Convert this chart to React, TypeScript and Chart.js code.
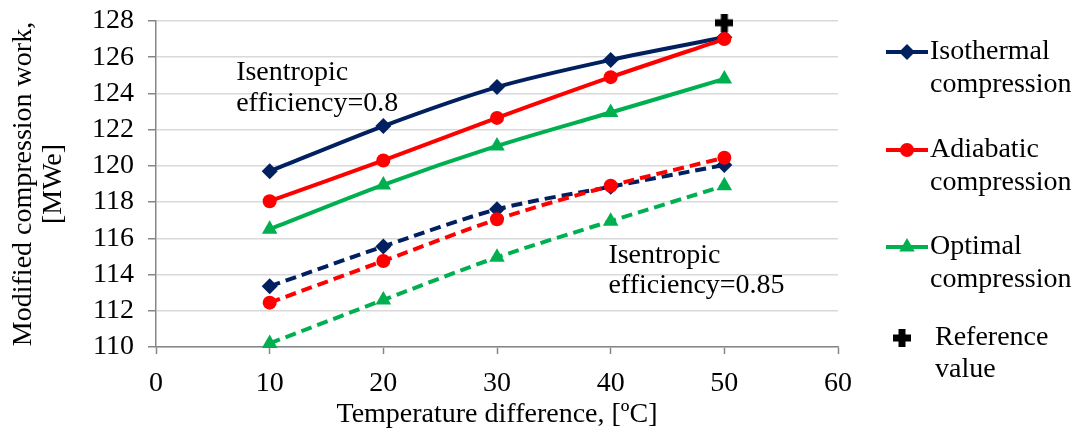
import React, { useEffect, useRef } from 'react';
import { Chart, registerables } from 'chart.js';

Chart.register(...registerables);

// ---- data ----
const temperatureDiff = [10, 20, 30, 40, 50];
const isothermal08 = [119.7, 122.2, 124.35, 125.85, 127.1];
const adiabatic08 = [118.05, 120.3, 122.65, 124.9, 127.0];
const optimal08 = [116.5, 118.95, 121.1, 122.95, 124.8];
const isothermal085 = [113.35, 115.55, 117.6, 118.85, 120.05];
const adiabatic085 = [112.45, 114.75, 117.05, 118.9, 120.45];
const optimal085 = [110.2, 112.6, 114.95, 116.95, 118.9];
const referenceX = [50];
const referenceY = [127.9];

const xMin = 0, xMax = 60, xStep = 10;
const yMin = 110, yMax = 128, yStep = 2;

const xTitle = 'Temperature difference, [\u00BAC]';
const yTitle = ['Modified compression work,', '[MWe]'];

const legendLabels = [
  ['Isothermal', 'compression'],
  ['Adiabatic', 'compression'],
  ['Optimal', 'compression'],
  ['Reference', 'value'],
];
const annotationLow = ['Isentropic', 'efficiency=0.8'];
const annotationHigh = ['Isentropic', 'efficiency=0.85'];

const NAVY = '#002060';
const RED = '#ff0000';
const GREEN = '#00b050';
const FONT = '"Liberation Serif", "Times New Roman", serif';
const FS = 28;

function makePlus(size: number, arm: number) {
  const c = document.createElement('canvas');
  c.width = size;
  c.height = size;
  const g = c.getContext('2d')!;
  g.fillStyle = '#000';
  const o = (size - arm) / 2;
  g.fillRect(o, 0, arm, size);
  g.fillRect(0, o, size, arm);
  return c;
}

function toXY(xs: number[], ys: number[]) {
  return xs.map((x, i) => ({ x, y: ys[i] }));
}

function drawMarker(ctx: CanvasRenderingContext2D, kind: string, cx: number, cy: number, color: string, plus?: HTMLCanvasElement) {
  ctx.fillStyle = color;
  ctx.beginPath();
  if (kind === 'diamond') {
    const r = 8;
    ctx.moveTo(cx, cy - r);
    ctx.lineTo(cx + r, cy);
    ctx.lineTo(cx, cy + r);
    ctx.lineTo(cx - r, cy);
    ctx.closePath();
    ctx.fill();
  } else if (kind === 'circle') {
    ctx.arc(cx, cy, 7, 0, Math.PI * 2);
    ctx.fill();
  } else if (kind === 'triangle') {
    const r = 9;
    ctx.moveTo(cx, cy - r);
    ctx.lineTo(cx + r * 0.866, cy + r * 0.5);
    ctx.lineTo(cx - r * 0.866, cy + r * 0.5);
    ctx.closePath();
    ctx.fill();
  } else if (kind === 'plus' && plus) {
    ctx.drawImage(plus, cx - plus.width / 2, cy - plus.height / 2);
  }
}

export default function App() {
  const ref = useRef<HTMLCanvasElement | null>(null);

  useEffect(() => {
    document.body.style.margin = '0';
    const canvas = ref.current!;
    const plusImg = makePlus(18, 7);

    const overlay = {
      id: 'overlay',
      afterDraw(chart: any) {
        const ctx: CanvasRenderingContext2D = chart.ctx;
        const xs = chart.scales.x;
        const ys = chart.scales.y;
        ctx.save();
        ctx.font = `${FS}px ${FONT}`;
        ctx.fillStyle = '#000';
        ctx.textAlign = 'left';
        ctx.textBaseline = 'middle';
        // annotations (anchored in data coordinates)
        const a1x = xs.getPixelForValue(7.05);
        const a1y = ys.getPixelForValue(125.15);
        annotationLow.forEach((t, i) => ctx.fillText(t, a1x, a1y + i * 31));
        const a2x = xs.getPixelForValue(39.8);
        const a2y = ys.getPixelForValue(115.05);
        annotationHigh.forEach((t, i) => ctx.fillText(t, a2x, a2y + i * 30));

        // legend
        const lx = chart.chartArea.right + 48;
        const kinds = ['diamond', 'circle', 'triangle', 'plus'];
        const colors = [NAVY, RED, GREEN, '#000'];
        const rowY = [52, 150, 247, 338];
        kinds.forEach((k, i) => {
          const cy = rowY[i];
          if (k !== 'plus') {
            ctx.strokeStyle = colors[i];
            ctx.lineWidth = 4;
            ctx.beginPath();
            ctx.moveTo(lx, cy);
            ctx.lineTo(lx + 42, cy);
            ctx.stroke();
            drawMarker(ctx, k, lx + 21, cy, colors[i]);
            ctx.fillStyle = '#000';
            legendLabels[i].forEach((t, j) => ctx.fillText(t, lx + 44, cy + j * 33));
          } else {
            drawMarker(ctx, k, lx + 16, cy, colors[i], plusImg);
            ctx.fillStyle = '#000';
            legendLabels[i].forEach((t, j) => ctx.fillText(t, lx + 49, cy + j * 32));
          }
        });
        ctx.restore();
      },
    };

    const common = { borderWidth: 4, tension: 0.3, showLine: true, fill: false, clip: false as any };

    const chart = new Chart(canvas, {
      type: 'scatter',
      data: {
        datasets: [
          {
            label: 'Reference value', data: toXY(referenceX, referenceY), showLine: false, clip: false as any,
            pointStyle: plusImg as any, pointRadius: 9, backgroundColor: '#000', borderColor: '#000',
          },
          { ...common, label: 'Adiabatic 0.8', data: toXY(temperatureDiff, adiabatic08), borderColor: RED, backgroundColor: RED, pointStyle: 'circle', pointRadius: 7, pointBorderWidth: 0 },
          { ...common, label: 'Isothermal 0.8', data: toXY(temperatureDiff, isothermal08), borderColor: NAVY, backgroundColor: NAVY, pointStyle: 'rectRot', pointRadius: 8, pointBorderWidth: 0 },
          { ...common, label: 'Optimal 0.8', data: toXY(temperatureDiff, optimal08), borderColor: GREEN, backgroundColor: GREEN, pointStyle: 'triangle', pointRadius: 9, pointBorderWidth: 0 },
          { ...common, label: 'Adiabatic 0.85', data: toXY(temperatureDiff, adiabatic085), borderColor: RED, backgroundColor: RED, borderDash: [11, 6], pointStyle: 'circle', pointRadius: 7, pointBorderWidth: 0 },
          { ...common, label: 'Isothermal 0.85', data: toXY(temperatureDiff, isothermal085), borderColor: NAVY, backgroundColor: NAVY, borderDash: [11, 6], pointStyle: 'rectRot', pointRadius: 8, pointBorderWidth: 0 },
          { ...common, label: 'Optimal 0.85', data: toXY(temperatureDiff, optimal085), borderColor: GREEN, backgroundColor: GREEN, borderDash: [11, 6], pointStyle: 'triangle', pointRadius: 9, pointBorderWidth: 0 },
        ],
      },
      options: {
        animation: false,
        responsive: false,
        devicePixelRatio: 1,
        layout: { padding: { left: 0, top: 21, right: 241, bottom: 0 } },
        plugins: { legend: { display: false }, tooltip: { enabled: false } },
        scales: {
          x: {
            type: 'linear', min: xMin, max: xMax,
            afterFit(scale: any) { scale.height = 93; scale.paddingLeft = 0; scale.paddingRight = 0; },
            ticks: { stepSize: xStep, color: '#000', font: { family: FONT, size: FS }, padding: 13, maxRotation: 0, autoSkip: false },
            grid: { drawOnChartArea: false, drawTicks: true, tickLength: 7, tickColor: '#868686', tickWidth: 1.5 },
            border: { color: '#868686', width: 1.5 },
            title: { display: true, text: xTitle, color: '#000', font: { family: FONT, size: FS, lineHeight: 1.2 }, padding: { top: 0, bottom: 9 } },
          },
          y: {
            type: 'linear', min: yMin, max: yMax,
            afterFit(scale: any) { scale.width = 156; scale.paddingTop = 0; scale.paddingBottom = 0; },
            ticks: { stepSize: yStep, color: '#000', font: { family: FONT, size: FS }, padding: 14, autoSkip: false },
            grid: { color: '#d9d9d9', lineWidth: 1.5, drawTicks: true, tickLength: 8, tickColor: '#868686' },
            border: { color: '#868686', width: 1.5 },
            title: { display: true, text: yTitle, color: '#000', font: { family: FONT, size: FS, lineHeight: 1.07 }, padding: { top: 9, bottom: 0 } },
          },
        },
      },
      plugins: [overlay],
    });
    return () => chart.destroy();
  }, []);

  return (
    <div style={{ width: 1079, height: 440 }}>
      <canvas ref={ref} width={1079} height={440} style={{ display: 'block', width: 1079, height: 440 }} />
    </div>
  );
}
